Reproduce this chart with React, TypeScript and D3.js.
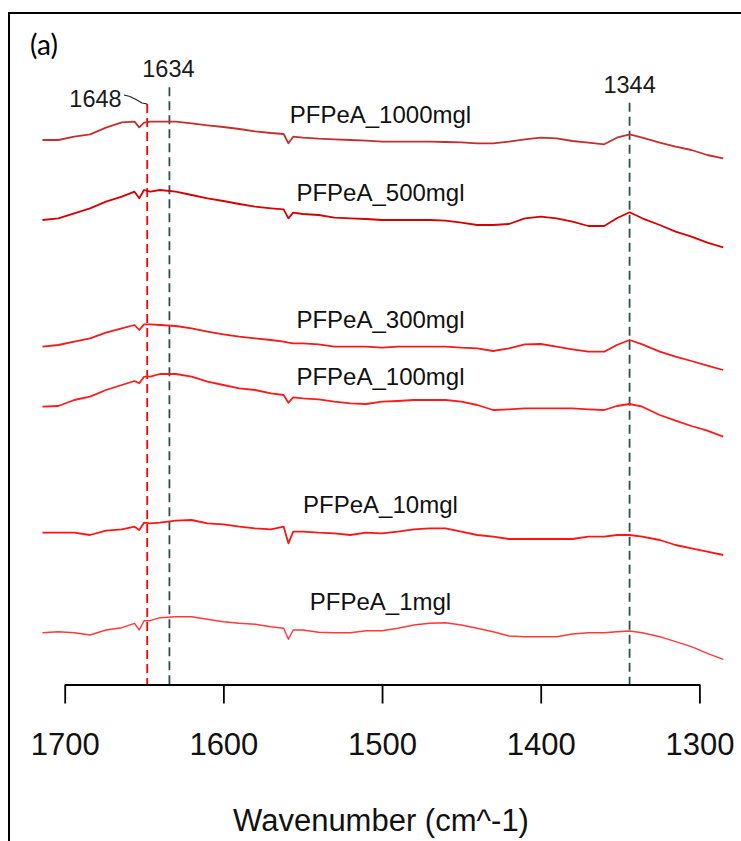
import React, { useEffect, useRef } from "react";
import * as d3 from "d3";

// ---- data ----
const wavenumbers = [1714,1704,1694,1684,1674,1664,1656,1653,1650,1646,1640,1630,1620,1610,1600,1590,1580,1570,1562,1559,1556,1550,1540,1530,1520,1510,1500,1490,1480,1470,1460,1450,1440,1430,1420,1410,1400,1390,1380,1370,1360,1352,1344,1336,1325,1315,1305,1295,1285];

const s1000 = [5.600,5.600,5.633,5.657,5.723,5.777,5.783,5.727,5.773,5.783,5.783,5.783,5.767,5.747,5.730,5.710,5.687,5.670,5.660,5.567,5.633,5.623,5.613,5.607,5.600,5.593,5.583,5.583,5.583,5.583,5.580,5.577,5.567,5.567,5.583,5.607,5.623,5.617,5.590,5.573,5.557,5.623,5.657,5.623,5.573,5.533,5.500,5.450,5.417];
const s500 = [4.800,4.817,4.867,4.917,4.983,5.033,5.083,5.017,5.100,5.083,5.100,5.083,5.050,5.017,4.990,4.960,4.933,4.917,4.907,4.817,4.873,4.860,4.850,4.823,4.817,4.810,4.800,4.800,4.800,4.800,4.793,4.773,4.750,4.750,4.760,4.817,4.833,4.817,4.783,4.740,4.740,4.817,4.877,4.817,4.750,4.683,4.633,4.573,4.527];
const s300 = [3.533,3.550,3.583,3.617,3.673,3.717,3.750,3.700,3.757,3.757,3.750,3.740,3.717,3.683,3.657,3.633,3.617,3.600,3.583,3.573,3.567,3.567,3.557,3.533,3.533,3.533,3.523,3.533,3.533,3.533,3.533,3.523,3.517,3.490,3.517,3.557,3.560,3.533,3.507,3.483,3.483,3.550,3.600,3.557,3.483,3.433,3.390,3.343,3.300];
const s100 = [2.933,2.940,3.000,3.033,3.100,3.150,3.190,3.167,3.233,3.233,3.260,3.260,3.233,3.183,3.150,3.117,3.100,3.067,3.050,2.973,3.027,3.017,3.007,2.983,2.967,2.960,2.983,2.990,3.000,3.000,3.000,2.983,2.950,2.900,2.907,2.917,2.917,2.917,2.917,2.907,2.900,2.940,2.960,2.933,2.850,2.793,2.740,2.693,2.633];
const s10 = [1.673,1.673,1.673,1.650,1.693,1.707,1.733,1.700,1.773,1.767,1.773,1.793,1.800,1.767,1.757,1.733,1.717,1.707,1.733,1.567,1.683,1.683,1.673,1.667,1.650,1.673,1.667,1.683,1.707,1.717,1.717,1.683,1.650,1.633,1.610,1.610,1.610,1.610,1.610,1.633,1.633,1.650,1.650,1.633,1.600,1.550,1.517,1.483,1.450];
const s1 = [0.673,0.683,0.673,0.650,0.700,0.723,0.767,0.700,0.793,0.793,0.823,0.833,0.833,0.807,0.783,0.767,0.757,0.733,0.717,0.607,0.700,0.700,0.677,0.673,0.673,0.693,0.693,0.717,0.750,0.767,0.773,0.750,0.717,0.683,0.640,0.633,0.633,0.633,0.660,0.673,0.673,0.683,0.690,0.673,0.633,0.583,0.533,0.467,0.407];

const seriesNames = ["PFPeA_1000mgl","PFPeA_500mgl","PFPeA_300mgl","PFPeA_100mgl","PFPeA_10mgl","PFPeA_1mgl"];
const seriesValues = [s1000, s500, s300, s100, s10, s1];
const seriesColors = ["#C42E2E","#D60000","#F21A1A","#FF1A1A","#FF1414","#FF3838"];
const seriesWidths = [1.8, 1.8, 1.8, 1.8, 1.8, 1.4];
const labelWavenumber = 1501;
const labelValues = [5.767, 4.993, 3.717, 3.150, 1.867, 0.900];

const markerWavenumbers = [1648, 1634, 1344];
const markerLabels = ["1648", "1634", "1344"];
const markerTops = [5.96, 6.127, 5.973];
const markerBottom = 0.14;
const markerColors = ["#FF0000", "#2F4F4F", "#2F4F4F"];

const xTicks = [1700, 1600, 1500, 1400, 1300];
const xTitle = "Wavenumber (cm^-1)";
const panelLabel = "(a)";

const W = 741, H = 841;

export default function App() {
  const axisRef = useRef<SVGGElement>(null);
  const x = d3.scaleLinear().domain([1700, 1300]).range([64.7, 699.4]);
  const y = d3.scaleLinear().domain([0, 6]).range([700, 100]);
  const axisY = 684.5;

  useEffect(() => {
    if (!axisRef.current) return;
    const g = d3.select(axisRef.current);
    g.selectAll("*").remove();
    g.call(
      d3.axisBottom(x).tickValues(xTicks).tickSize(19).tickSizeOuter(0).tickPadding(29).tickFormat(d3.format("d"))
    );
    g.select(".domain").attr("stroke", "#000").attr("stroke-width", 1.8);
    g.selectAll(".tick line").attr("stroke", "#000").attr("stroke-width", 1.8);
    g.selectAll(".tick text")
      .attr("fill", "#111")
      .style("font-family", "'Liberation Sans', Arial, sans-serif")
      .style("font-size", "31px");
  }, []);

  const line = d3
    .line<number>()
    .x((_, i) => x(wavenumbers[i]))
    .y((d) => y(d));

  const font = "'Liberation Sans', Arial, sans-serif";

  return (
    <svg
      width={W}
      height={H}
      style={{ position: "absolute", left: 0, top: 0, background: "#fff" }}
    >
      <rect x={0} y={0} width={W} height={H} fill="#fff" />
      {/* frame */}
      <path d={`M9,${H} V13 H${W}`} fill="none" stroke="#000" strokeWidth={2} />
      <text x={44} y={55} textAnchor="middle" fontFamily="Lato, 'Open Sans', sans-serif" fontSize={28} fill="#000">
        {panelLabel}
      </text>

      {/* marker lines */}
      {markerWavenumbers.map((wn, i) => (
        <line
          key={"m" + i}
          x1={x(wn)}
          x2={x(wn)}
          y1={y(markerTops[i])}
          y2={y(markerBottom)}
          stroke={markerColors[i]}
          strokeWidth={1.8}
          strokeDasharray="9,5"
        />
      ))}
      {/* marker labels */}
      <text x={95.5} y={106.5} textAnchor="middle" fontFamily={font} fontSize={23.5} fill="#1a1a1a">
        {markerLabels[0]}
      </text>
      <polyline
        points={`124,95 130,96.5 136,99.5 142,103 ${x(markerWavenumbers[0])},${y(markerTops[0])}`}
        fill="none"
        stroke="#222"
        strokeWidth={1.2}
      />
      <text x={x(markerWavenumbers[1]) - 1} y={77} textAnchor="middle" fontFamily={font} fontSize={23.5} fill="#1a1a1a">
        {markerLabels[1]}
      </text>
      <text x={x(markerWavenumbers[2])} y={93} textAnchor="middle" fontFamily={font} fontSize={23.5} fill="#1a1a1a">
        {markerLabels[2]}
      </text>

      {/* spectra */}
      {seriesValues.map((vals, i) => (
        <path
          key={"s" + i}
          d={line(vals) || ""}
          fill="none"
          stroke={seriesColors[i]}
          strokeWidth={seriesWidths[i]}
          strokeLinejoin="round"
        />
      ))}
      {seriesNames.map((name, i) => (
        <text
          key={"l" + i}
          x={x(labelWavenumber)}
          y={y(labelValues[i])}
          textAnchor="middle"
          fontFamily={font}
          fontSize={24}
          fill="#111"
        >
          {name}
        </text>
      ))}

      {/* axis */}
      <g ref={axisRef} transform={`translate(0,${axisY})`} />
      <text x={381} y={831} textAnchor="middle" fontFamily={font} fontSize={31} fill="#111">
        {xTitle}
      </text>
    </svg>
  );
}
